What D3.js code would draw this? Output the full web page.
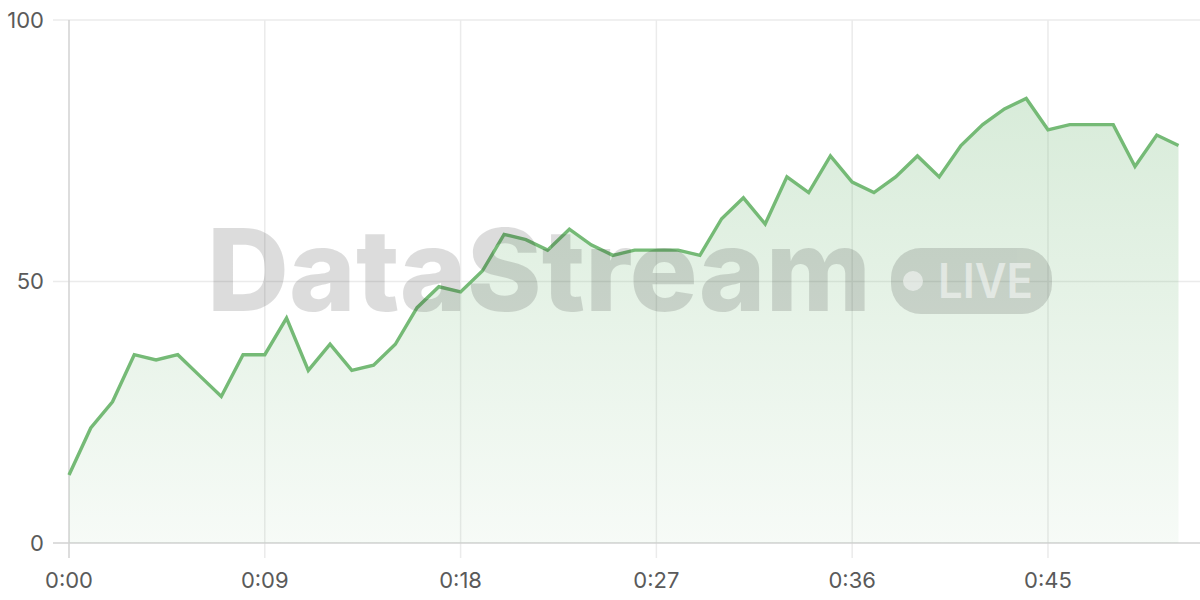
<!DOCTYPE html>
<html><head><meta charset="utf-8">
<script src="https://cdn.jsdelivr.net/npm/d3@7"></script>
<style>html,body{margin:0;padding:0;background:#fff;}svg{display:block;}</style>
</head><body>
<svg id="chart" width="1200" height="600"></svg>
<script>
const seconds = d3.range(0, 52);
const values = [13,22,27,36,35,36,32,28,36,36,43,33,38,33,34,38,45,49,48,52,59,58,56,60,57,55,56,56,56,55,62,66,61,70,67,74,69,67,70,74,70,76,80,83,85,79,80,80,80,72,78,76];
const xTickValues = [0,9,18,27,36,45];
const yTickValues = [0,50,100];
const watermarkText = "DataStream";
const badgeText = "LIVE";

(function(){
const svg = d3.select("#chart");
const W = 1200;
const mLeft = 69, mRight = 1178.5, mTop = 20, mBottom = 543;
const x = d3.scaleLinear().domain([0, 51]).range([mLeft, mRight]);
const y = d3.scaleLinear().domain([0, 100]).range([mBottom, mTop]);
const data = seconds.map((s, i) => ({s, v: values[i]}));
const fmt = s => Math.floor(s/60) + ":" + String(s%60).padStart(2,"0");

const defs = svg.append("defs");
const grad = defs.append("linearGradient").attr("id","areaGrad")
  .attr("gradientUnits","userSpaceOnUse").attr("x1",0).attr("x2",0).attr("y1", y(85)).attr("y2", mBottom);
grad.append("stop").attr("offset",0).attr("stop-color","rgb(115,185,120)").attr("stop-opacity",0.28);
grad.append("stop").attr("offset",1).attr("stop-color","rgb(115,185,120)").attr("stop-opacity",0.06);

svg.append("g").selectAll("line").data(yTickValues.filter(d=>d!==0)).join("line")
  .attr("x1", 53).attr("x2", W).attr("y1", d=>y(d)).attr("y2", d=>y(d))
  .attr("stroke","#ebebeb").attr("stroke-width",1.5);
svg.append("g").selectAll("line").data(xTickValues.filter(d=>d!==0)).join("line")
  .attr("x1", d=>x(d)).attr("x2", d=>x(d)).attr("y1", mTop).attr("y2", 558)
  .attr("stroke","#ebebeb").attr("stroke-width",1.5);
svg.append("line").attr("x1",53).attr("x2",W).attr("y1",mBottom).attr("y2",mBottom).attr("stroke","#d2d2d2").attr("stroke-width",1.5);
svg.append("line").attr("x1",x(0)).attr("x2",x(0)).attr("y1",mTop).attr("y2",558).attr("stroke","#d2d2d2").attr("stroke-width",1.5);

svg.append("path").datum(data)
  .attr("d", d3.area().x(d=>x(d.s)).y0(mBottom).y1(d=>y(d.v)))
  .attr("fill","url(#areaGrad)");
svg.append("path").datum(data)
  .attr("d", d3.line().x(d=>x(d.s)).y(d=>y(d.v)))
  .attr("fill","none").attr("stroke","rgb(117,186,118)").attr("stroke-width",3.4).attr("stroke-linejoin","miter");

svg.append("g").selectAll("text").data(yTickValues).join("text")
  .attr("x", 44).attr("y", d=>y(d)).attr("dy","0.36em").attr("text-anchor","end")
  .attr("font-family","Inter, 'Open Sans', sans-serif").attr("font-size",22).attr("fill","#5a5a5a")
  .text(d=>d);
svg.append("g").selectAll("text").data(xTickValues).join("text")
  .attr("x", d=>x(d)).attr("y", 588).attr("text-anchor","middle")
  .attr("font-family","Inter, 'Open Sans', sans-serif").attr("font-size",22).attr("fill","#5a5a5a")
  .text(d=>fmt(d));

const wm = svg.append("g").attr("opacity",0.14).attr("pointer-events","none");
wm.append("text").attr("x",207).attr("y",311).attr("font-family","Inter, Roboto, sans-serif").attr("font-weight",800)
  .attr("font-size",114).attr("fill","#111").attr("textLength",664).attr("lengthAdjust","spacingAndGlyphs").text(watermarkText);
wm.append("rect").attr("x",891).attr("y",248).attr("width",161).attr("height",66).attr("rx",30).attr("fill","#111");
const wm2 = svg.append("g").attr("opacity",0.5).attr("pointer-events","none");
wm2.append("circle").attr("cx",913).attr("cy",281).attr("r",10).attr("fill","#fff");
wm2.append("text").attr("x",938).attr("y",298).attr("font-family","Inter, Roboto, sans-serif").attr("font-weight",600)
  .attr("font-size",48).attr("fill","#fff").attr("textLength",95).attr("lengthAdjust","spacingAndGlyphs").text(badgeText);
})();
</script>
</body></html>
